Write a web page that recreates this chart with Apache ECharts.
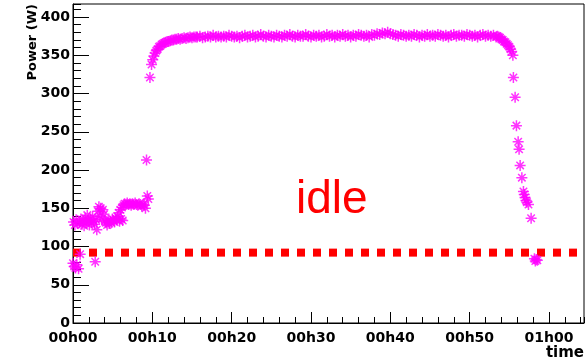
<!DOCTYPE html>
<html>
<head>
<meta charset="utf-8">
<script src="https://cdn.jsdelivr.net/npm/echarts@6/dist/echarts.min.js"></script>
<style>
html,body{margin:0;padding:0;background:#fff;}
#chart{width:587px;height:360px;}
</style>
</head>
<body>
<div id="chart"></div>
<script>
// ---- data ----
const timeSec = [
  0,4,9,14,19,24,29,34,42,48,54,60,68,76,84,92,100,108,116,124,
  132,140,148,156,163,168,174,180,188,196,203,210,218,226,234,242,250,258,266,274,
  282,290,298,306,314,322,330,338,346,352,358,364,370,376,382,390,400,410,420,430,
  440,450,460,470,480,490,500,510,520,530,540,548,556,562,570,
  582,594,603,612,621,630,640,650,660,670,680,690,700,712,724,736,748,760,772,784,
  796,810,825,840,855,870,885,900,915,930,
  940,960,980,1000,1020,1040,1060,1080,1100,1120,
  1140,1160,1180,1200,1220,1240,1260,1280,1300,1320,
  1340,1360,1380,1400,1420,1440,1460,1480,1500,1520,
  1540,1560,1580,1600,1620,1640,1660,1680,1700,1720,
  1740,1760,1780,1800,1820,1840,1860,1880,1900,1920,
  1940,1960,1980,2000,2020,2040,2060,2080,2100,2120,
  2140,2160,2180,2200,2220,2240,2260,2280,2300,2320,
  2340,2360,2380,2400,2420,2440,2460,2480,2500,2520,
  2540,2560,2580,2600,2620,2640,2660,2680,2700,2720,
  2740,2760,2780,2800,2820,2840,2860,2880,2900,2920,
  2940,2960,2980,3000,3020,3040,3060,3080,3100,3120,
  3140,3160,3180,3200,
  3210,3220,3230,3240,3250,3260,3270,3280,3290,3300,3310,3318,3327,3331,3344,3354,3367,3374,3382,3395,
  3407,3413,3419,3426,3433,3445,3465,3490,3497,3504,3512
];
const powerW = [
  78,132,74,128,72,135,76,130,71,131,90,136,129,133,127,137,131,141,134,128,
  136,131,139,133,129,80,135,122,146,152,140,150,136,148,142,133,131,128,134,130,
  133,131,136,134,132,137,135,139,144,133,148,136,151,134,154,156,155,157,155,156,
  154,156,155,157,155,154,156,155,153,155,154,150,213,166,162,
  321,338,344,349,353,356,358,361,362,364,365,366,367,368,368,369,370,370,371,371,
  372,371,372,373,372,373,374,373,374,374,
  374,375,373,374,375,374,376,374,375,374,
  375,374,376,375,374,375,373,375,376,374,
  375,376,374,375,377,375,374,376,375,374,
  376,375,374,376,375,377,375,374,376,375,
  375,377,375,374,376,375,376,374,375,377,
  375,376,374,376,375,377,375,376,374,376,
  375,377,376,375,376,374,377,376,378,377,
  379,378,380,378,377,376,375,377,376,375,
  376,375,377,376,374,376,375,377,375,376,
  375,377,376,375,376,374,376,377,375,376,
  376,375,377,376,375,376,374,376,377,375,
  376,375,376,374,
  375,374,373,371,370,368,367,365,363,361,358,355,350,321,295,258,237,227,206,190,
  172,168,164,160,158,155,137,84,81,83,82
];
const idlePowerW = 92;
const xMaxSec = 3865;
const yMaxW = 417;
const xMajorSec = 600, xMinorSec = 120;
const yMajorW = 50, yMinorW = 10;

const points = timeSec.map((t, i) => [t, powerW[i]]);

function fmtTime(v) {
  if (v % xMajorSec !== 0) return '';
  const m = Math.round(v / 60);
  const h = Math.floor(m / 60), mm = m % 60;
  return String(h).padStart(2, '0') + 'h' + String(mm).padStart(2, '0');
}

const labelFont = {fontFamily: 'DejaVu Sans', fontWeight: 'bold', fontSize: 14, color: '#000'};
const star = 'path://M0,5L10,5M5,0L5,10M1.6,1.6L8.4,8.4M8.4,1.6L1.6,8.4';

const chart = echarts.init(document.getElementById('chart'), null, {renderer: 'canvas'});
chart.setOption({
  animation: false,
  backgroundColor: '#fff',
  grid: {left: 73, right: 3, top: 4, bottom: 37, show: true, borderColor: '#000', borderWidth: 1, backgroundColor: 'transparent'},
  xAxis: [
    {type: 'value', min: 0, max: xMaxSec, interval: xMajorSec, position: 'bottom',
     axisLine: {show: true, onZero: false, lineStyle: {color: '#000', width: 1}},
     axisTick: {show: true, inside: true, length: 11, lineStyle: {color: '#000', width: 1}},
     axisLabel: Object.assign({margin: 8, formatter: fmtTime, showMaxLabel: false}, labelFont),
     splitLine: {show: false}},
    {type: 'value', min: 0, max: xMaxSec, interval: xMinorSec, position: 'bottom',
     axisLine: {show: false, onZero: false},
     axisTick: {show: true, inside: true, length: 6, lineStyle: {color: '#000', width: 1}},
     axisLabel: {show: false}, splitLine: {show: false}}
  ],
  yAxis: [
    {type: 'value', min: 0, max: yMaxW, interval: yMajorW, position: 'left',
     axisLine: {show: true, onZero: false, lineStyle: {color: '#000', width: 1}},
     axisTick: {show: true, inside: true, length: 16, lineStyle: {color: '#000', width: 1}},
     axisLabel: Object.assign({margin: 3, showMaxLabel: false, formatter: v => (v % yMajorW === 0 ? String(v) : '')}, labelFont),
     splitLine: {show: false}},
    {type: 'value', min: 0, max: yMaxW, interval: yMinorW, position: 'left',
     axisLine: {show: false, onZero: false},
     axisTick: {show: true, inside: true, length: 8, lineStyle: {color: '#000', width: 1}},
     axisLabel: {show: false}, splitLine: {show: false}}
  ],
  series: [
    {type: 'line', xAxisIndex: 0, yAxisIndex: 0, data: [[0, idlePowerW], [xMaxSec, idlePowerW]],
     symbol: 'none', silent: true,
     lineStyle: {color: '#ff0000', width: 8, type: [8, 8], cap: 'butt'}, z: 2},
    {type: 'scatter', xAxisIndex: 0, yAxisIndex: 0, data: points,
     symbol: star, symbolSize: 11, silent: true,
     itemStyle: {color: 'transparent', borderColor: '#ff00ff', borderWidth: 1.5}, z: 3}
  ],
  graphic: [
    {type: 'text', x: 33, y: 4, rotation: Math.PI / 2,
     style: {text: 'Power (W)', fontFamily: 'DejaVu Sans', fontWeight: 'bold', fontSize: 13, fill: '#000', align: 'right', verticalAlign: 'middle'}},
    {type: 'text', x: 584, y: 353,
     style: {text: 'time', fontFamily: 'DejaVu Sans', fontWeight: 'bold', fontSize: 15, fill: '#000', align: 'right', verticalAlign: 'middle'}},
    {type: 'text', x: 296, y: 200,
     style: {text: 'idle', fontFamily: 'Liberation Sans', fontSize: 46, fill: '#ff0000', align: 'left', verticalAlign: 'middle'}}
  ]
});
</script>
</body>
</html>
